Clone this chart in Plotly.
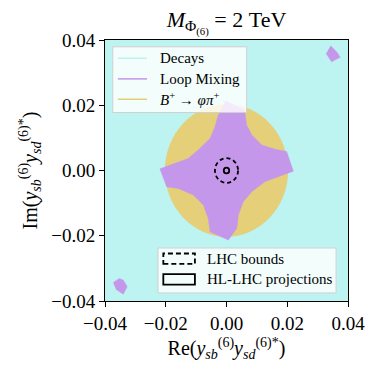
import plotly.graph_objects as go

# axis setup
x_range = [-0.04, 0.04]
y_range = [-0.04, 0.04]
tick_vals = [-0.04, -0.02, 0.00, 0.02, 0.04]

# B+ -> phi pi+ allowed disc (radius)
bphi_radius = 0.0203

# loop mixing allowed region (central star), boundary points
loop_x = [-0.0003, 0.0057, 0.0061, 0.0066, 0.0083, 0.0116, 0.0160, 0.0198,
          0.0220, 0.0127, 0.0083, 0.0055, 0.0039, 0.0034, 0.0006,
          -0.0054, -0.0060, -0.0076, -0.0109, -0.0159, -0.0197,
          -0.0219, -0.0126, -0.0093, -0.0054, -0.0038, -0.0027]
loop_y = [0.0213, 0.0186, 0.0175, 0.0140, 0.0109, 0.0078, 0.0065, 0.0058,
          -0.0002, -0.0034, -0.0065, -0.0096, -0.0136, -0.0177, -0.0213,
          -0.0188, -0.0147, -0.0106, -0.0075, -0.0055, -0.0050,
          0.0005, 0.0037, 0.0063, 0.0098, 0.0134, 0.0170]

# small isolated loop-mixing islands in the corners
island_tr_x = [0.0343, 0.0365, 0.0374, 0.0346, 0.0328]
island_tr_y = [0.0382, 0.0361, 0.0347, 0.0333, 0.0359]
island_bl_x = [-0.0373, -0.0353, -0.0340, -0.0327, -0.0340, -0.0364]
island_bl_y = [-0.0344, -0.0331, -0.0336, -0.0356, -0.0379, -0.0364]

# LHC bound / HL-LHC projection radii
lhc_radius = 0.0038
hllhc_radius = 0.0009

region_names = ["Decays", "Loop Mixing",
                "<i>B</i><sup>+</sup> → <i>φπ</i><sup>+</sup>"]
bound_names = ["LHC bounds", "HL-LHC projections"]

c_decay = "#bdf3f1"
c_loop = "#c497ea"
c_bphi = "#e5cf78"
region_colors = [c_decay, c_loop, c_bphi]

fig = go.Figure()

fig.add_trace(go.Scatter(x=loop_x, y=loop_y, fill="toself", mode="lines",
                         fillcolor=c_loop, line=dict(color=c_loop, width=0.5),
                         showlegend=False, hoverinfo="skip"))
for ix, iy in [(island_tr_x, island_tr_y), (island_bl_x, island_bl_y)]:
    fig.add_trace(go.Scatter(x=ix, y=iy, fill="toself", mode="lines",
                             fillcolor=c_loop, line=dict(color=c_loop, width=0.5),
                             showlegend=False, hoverinfo="skip"))

fig.add_shape(type="circle", xref="x", yref="y", layer="below",
              x0=-bphi_radius, x1=bphi_radius, y0=-bphi_radius, y1=bphi_radius,
              fillcolor=c_bphi, line=dict(width=0))
fig.add_shape(type="circle", xref="x", yref="y", layer="above",
              x0=-lhc_radius, x1=lhc_radius, y0=-lhc_radius, y1=lhc_radius,
              line=dict(color="black", width=1.8, dash="4px,3px"))
fig.add_shape(type="circle", xref="x", yref="y", layer="above",
              x0=-hllhc_radius, x1=hllhc_radius, y0=-hllhc_radius, y1=hllhc_radius,
              line=dict(color="black", width=1.8))

legend_bg = "rgba(255,255,255,0.8)"
legend_edge = "#d0d0d0"

# first legend (line proxies), drawn by hand to match matplotlib spacing
fig.add_shape(type="rect", xref="paper", yref="paper", layer="above",
              x0=0.032, x1=0.583, y0=0.722, y1=0.974,
              fillcolor=legend_bg, line=dict(color=legend_edge, width=1))
for name, col, yc in zip(region_names, region_colors, [0.930, 0.851, 0.773]):
    fig.add_shape(type="line", xref="paper", yref="paper", layer="above",
                  x0=0.053, x1=0.173, y0=yc, y1=yc,
                  line=dict(color=col, width=1.5))
    fig.add_annotation(text=name, xref="paper", yref="paper", x=0.218, y=yc,
                       xanchor="left", yanchor="middle", showarrow=False,
                       font=dict(size=15))

# second legend (patch-style boxes)
fig.add_shape(type="rect", xref="paper", yref="paper", layer="above",
              x0=0.218, x1=0.951, y0=0.031, y1=0.203,
              fillcolor=legend_bg, line=dict(color=legend_edge, width=1))
for name, dash, yc in zip(bound_names, ["5px,3px", "solid"], [0.162, 0.083]):
    fig.add_shape(type="rect", xref="paper", yref="paper", layer="above",
                  x0=0.240, x1=0.370, y0=yc - 0.02, y1=yc + 0.02,
                  line=dict(color="black", width=1.8, dash=dash))
    fig.add_annotation(text=name, xref="paper", yref="paper", x=0.41, y=yc,
                       xanchor="left", yanchor="middle", showarrow=False,
                       font=dict(size=15))

font_family = "Liberation Serif"

fig.update_layout(
    width=366, height=365,
    margin=dict(l=97, r=26, t=32, b=72),
    paper_bgcolor="white",
    plot_bgcolor=c_decay,
    font=dict(family=font_family, size=16, color="black"),
    title=dict(text="<i>M</i><sub>Φ<sub>(6)</sub></sub> = 2 TeV",
               x=0.5, xref="paper", xanchor="center",
               y=0.97, yref="container", yanchor="middle", font=dict(size=22)),
    showlegend=False,
)

axis_style = dict(showgrid=False, zeroline=False, showline=True, mirror=True,
                  linecolor="black", linewidth=1, ticks="outside", ticklen=5,
                  tickcolor="black", tickfont=dict(size=19), automargin=False,
                  tickvals=tick_vals, tickformat=".2f")
fig.update_xaxes(range=x_range, **axis_style,
                 title=dict(text="Re(<i>y</i><sub><i>sb</i></sub><sup>(6)</sup><i>y</i><sub><i>sd</i></sub><sup>(6)*</sup>)",
                            font=dict(size=20), standoff=8))
fig.update_yaxes(range=y_range, **axis_style,
                 title=dict(text="Im(<i>y</i><sub><i>sb</i></sub><sup>(6)</sup><i>y</i><sub><i>sd</i></sub><sup>(6)*</sup>)",
                            font=dict(size=20), standoff=8))

fig.write_html("out.html")
